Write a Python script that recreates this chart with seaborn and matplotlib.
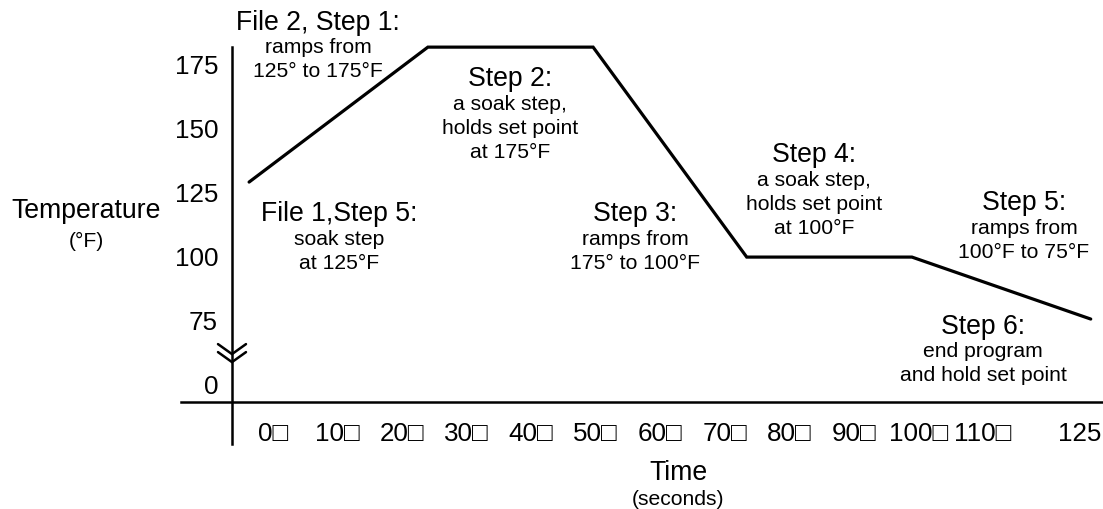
import matplotlib
matplotlib.use("Agg")
import matplotlib.pyplot as plt
import seaborn as sns
import pandas as pd

# ---- data (y axis is broken below 75) ----
time_s = [-3.7, 24.0, 49.6, 73.4, 99.0, 126.7]
temp_f = [128.5, 181.2, 181.2, 99.2, 99.2, 75.0]
x_ticks = [0, 10, 20, 30, 40, 50, 60, 70, 80, 90, 100, 110, 125]
x_tick_labels = ["0□", "10□", "20□", "30□", "40□", "50□", "60□", "70□",
                 "80□", "90□", "100□", "110□", "125"]
y_ticks = [50, 75, 100, 125, 150, 175]
y_tick_labels = ["0", "75", "100", "125", "150", "175"]

sns.set_theme(style="white")
plt.rcParams["font.family"] = ["Liberation Sans", "DejaVu Sans"]

W, H = 1103, 510
fig = plt.figure(figsize=(W / 100, H / 100), dpi=100)
ax = fig.add_axes([181 / W, (H - 445) / H, (1103 - 181) / W, (445 - 48) / H])

df = pd.DataFrame({"Time": time_s, "Temperature": temp_f})
sns.lineplot(data=df, x="Time", y="Temperature", ax=ax, color="black",
             linewidth=2.3, sort=False)
for ln in ax.lines:
    ln.set_clip_on(False)
    ln.set_solid_joinstyle("miter")

ax.set_xlim(-14.25, 128.6)
ax.set_ylim(26.2, 181.25)
ax.set_xlabel("")
ax.set_ylabel("")
for s in ("top", "right"):
    ax.spines[s].set_visible(False)
ax.spines["left"].set_position(("data", -6.35))
ax.spines["bottom"].set_position(("data", 42.6))
for s in ("left", "bottom"):
    ax.spines[s].set_color("black")
    ax.spines[s].set_linewidth(1.8)

ax.set_xticks(x_ticks, x_tick_labels)
ax.set_yticks(y_ticks, y_tick_labels)
ax.tick_params(axis="both", length=0, labelsize=18.7, colors="black")
ax.tick_params(axis="y", pad=10)
ax.tick_params(axis="x", pad=14)
ax.grid(False)

# axis break marks (two zigzags across the y axis), drawn as pixel offsets
bx, by = -6.35, 61.7
x0, y0 = ax.transData.transform((bx, by))
inv = ax.transData.inverted()
for dy in (-4, 4):
    xs_px = [-14, 0, 14]
    ys_px = [-5 + dy, 5 + dy, -5 + dy]
    pts = [inv.transform((x0 + a, y0 - b)) for a, b in zip(xs_px, ys_px)]
    ax.plot([p[0] for p in pts], [p[1] for p in pts], color="black", lw=1.8,
            clip_on=False, solid_joinstyle="miter")


def T(px, py, s, size):
    fig.text(px / W, 1 - py / H, s, ha="center", va="baseline", fontsize=size,
             color="black")

BIG, SMALL = 19.2, 15.2
T(86, 218, "Temperature", BIG)
T(86, 247, "(°F)", SMALL)
T(678, 480, "Time", BIG)
T(678, 505, "(seconds)", SMALL)

T(318, 30, "File 2, Step 1:", BIG)
T(318, 53, "ramps from", SMALL)
T(318, 77, "125° to 175°F", SMALL)

T(510, 86, "Step 2:", BIG)
T(510, 110, "a soak step,", SMALL)
T(510, 134, "holds set point", SMALL)
T(510, 158, "at 175°F", SMALL)

T(339, 221, "File 1,Step 5:", BIG)
T(339, 245, "soak step", SMALL)
T(339, 269, "at 125°F", SMALL)

T(635, 221, "Step 3:", BIG)
T(635, 245, "ramps from", SMALL)
T(635, 269, "175° to 100°F", SMALL)

T(814, 162, "Step 4:", BIG)
T(814, 186, "a soak step,", SMALL)
T(814, 210, "holds set point", SMALL)
T(814, 234, "at 100°F", SMALL)

T(1024, 210, "Step 5:", BIG)
T(1024, 234, "ramps from", SMALL)
T(1024, 258, "100°F to 75°F", SMALL)

T(983, 334, "Step 6:", BIG)
T(983, 357, "end program", SMALL)
T(983, 381, "and hold set point", SMALL)

fig.savefig("out.png", dpi=100, facecolor="white")
